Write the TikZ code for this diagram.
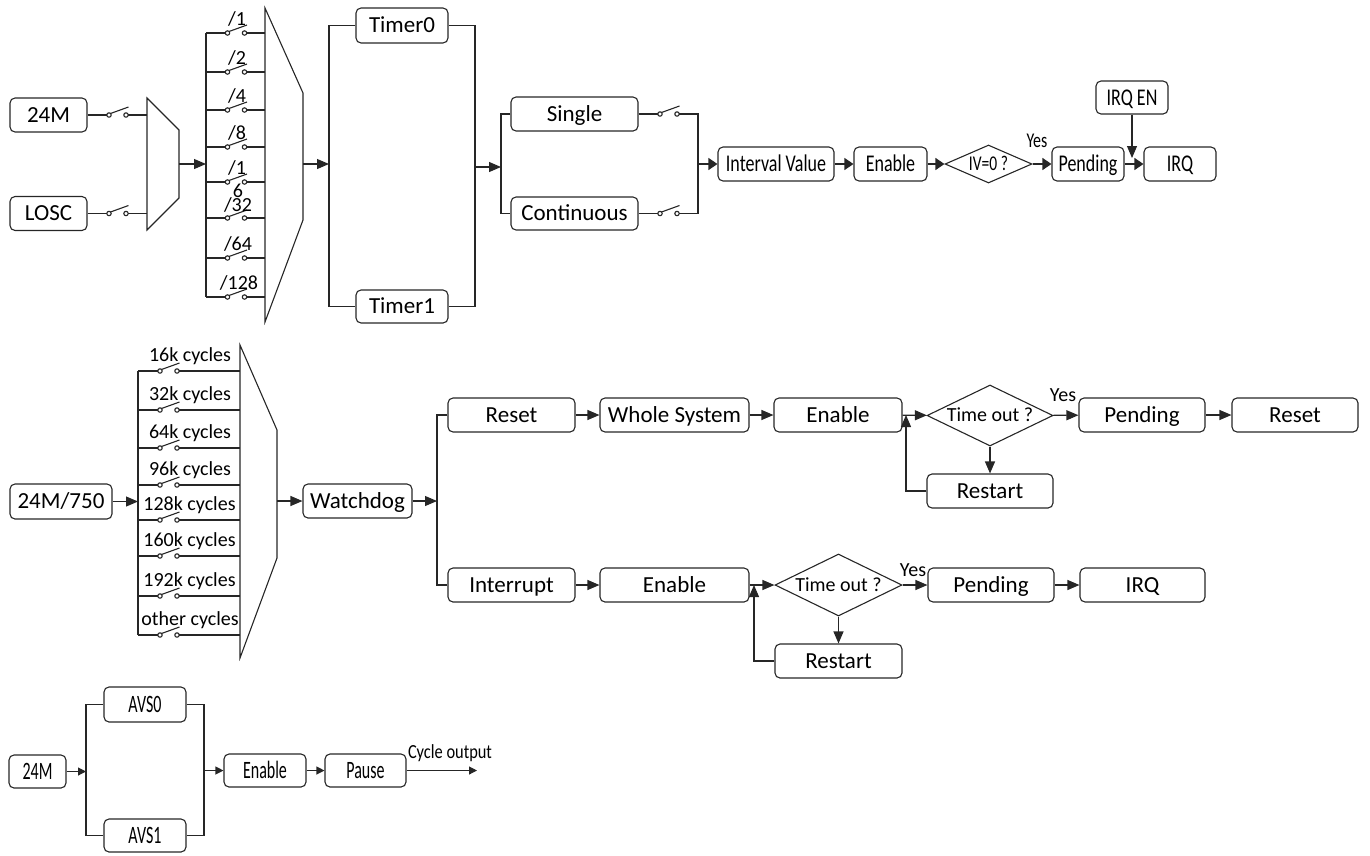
\documentclass[tikz,border=0pt]{standalone}
\usepackage{fontspec}
\setmainfont{Carlito}
\usepackage{graphicx}
\usetikzlibrary{arrows.meta,shapes.geometric}
\newcommand\fsz[1]{\fontsize{#1pt}{#1pt}\selectfont}
\newcommand\ntxt[2][1]{\raisebox{-0.32em}[0pt][0pt]{\makebox[0pt]{\scalebox{#1}[1]{#2}}}}
\tikzset{
  ln/.style={draw=black!85, line width=1.1pt},
  box/.style={draw=black!85, line width=1.1pt, rounded corners=5pt, inner sep=0pt, minimum height=34pt},
  dia/.style={draw=black!85, line width=1.1pt, shape=diamond, inner sep=0pt},
  arr/.style={ln, -{Triangle[length=12pt,width=10pt]}},
  tarr/.style={ln, -{Triangle[length=9pt,width=12pt]}},
  sarr/.style={ln, -{Triangle[length=8pt,width=8pt]}},
  fA/.style={font=\fsz{23}},
  fB/.style={font=\fsz{24}},
  fC/.style={font=\fsz{25}},
  fL/.style={font=\fsz{20}},
  swi/.pic={
    \draw[ln] (-8.5,0) circle[radius=2.2pt];
    \draw[ln] (8.5,0) circle[radius=2.2pt];
    \draw[ln] (-7,-1.5) -- (11,-8);
    \coordinate (-l) at (-10.7,0);
    \coordinate (-r) at (10.7,0);
  }
}
\begin{document}
\begin{tikzpicture}[x=1pt,y=-1pt]
\useasboundingbox (0,0) rectangle (1370,855);

% ---------------- Timer section ----------------
\node[box,fA,minimum width=77pt] (m24) at (48.5,115) {\ntxt{24M}};
\node[box,fA,minimum width=77pt] (losc) at (48.5,213.5) {\ntxt{LOSC}};
\pic (sa) at (117.5,115) {swi};
\pic (sb) at (117.5,213.5) {swi};
\draw[ln] (147,98) -- (179,130) -- (179,198) -- (147,230) -- cycle;
\coordinate (muxa) at (147,115);
\coordinate (muxb) at (147,213.5);
\coordinate (muxo) at (179,164);
\coordinate (diva) at (206,164);
\draw[ln] (m24) -- (sa-l);
\draw[ln] (sa-r) -- (muxa);
\draw[ln] (losc) -- (sb-l);
\draw[ln] (sb-r) -- (muxb);
\draw[arr] (muxo) -- (diva);

% divider bus
\draw[ln] (206,33) -- (206,297);
\foreach \y in {33,72,110,147,182,218,258,297} {
  \pic at (236,\y) {swi};
  \draw[ln] (206,\y) -- (225.3,\y);
  \draw[ln] (246.7,\y) -- (265,\y);
}
\node[fL] (dl1) at (237,19.5) {\ntxt{/1}};
\node[fL] (dl2) at (237,58.5) {\ntxt{/2}};
\node[fL] (dl3) at (237,96.5) {\ntxt{/4}};
\node[fL] (dl4) at (237,133.5) {\ntxt{/8}};
\node[fL] (dl5) at (237,168.5) {\ntxt{/1}};
\node[fL] (dl5b) at (238,191) {\ntxt{6}};
\node[fL] (dl6) at (238,205) {\ntxt{/32}};
\node[fL] (dl7) at (238,244.5) {\ntxt{/64}};
\node[fL] (dl8) at (239,283.5) {\ntxt{/128}};

% mux 2
\draw[ln] (265,8) -- (303,93) -- (303,220) -- (265,322) -- cycle;
\coordinate (mux2o) at (303,164);
\coordinate (tbusl) at (329,164);
\draw[arr] (mux2o) -- (tbusl);

\node[box,fA,minimum width=92pt,minimum height=35pt] (tm0) at (402,25.5) {\ntxt{Timer0}};
\node[box,fA,minimum width=92pt,minimum height=33pt] (tm1) at (402,306.5) {\ntxt{Timer1}};
\draw[ln] (tm0.west) -- (329,25.5) -- (329,306.5) -- (tm1.west);
\draw[ln] (tm0.east) -- (475,25.5) -- (475,306.5) -- (tm1.east);
\coordinate (tbusr) at (475,167);
\coordinate (mbusl) at (501,167);
\draw[arr] (tbusr) -- (mbusl);

\node[box,fA,minimum width=127pt] (sgl) at (574.5,114) {\ntxt{Single}};
\node[box,fA,minimum width=127pt,minimum height=33pt] (cont) at (574.5,213.5) {\ntxt{Continuous}};
\draw[ln] (sgl.west) -- (501,114) -- (501,213.5) -- (cont.west);
\pic (sc) at (668.5,114) {swi};
\pic (sd) at (668.5,213.5) {swi};
\draw[ln] (sgl.east) -- (sc-l);
\draw[ln] (cont.east) -- (sd-l);
\draw[ln] (sc-r) -- (698,114) -- (698,213.5) -- (sd-r);
\coordinate (mbusr) at (698,164);

\node[box,fB,minimum width=116pt] (iv) at (776,164) {\ntxt[0.75]{Interval Value}};
\node[box,fB,minimum width=73pt] (en1) at (890.5,164) {\ntxt[0.75]{Enable}};
\node[dia,font=\fsz{21},minimum width=87pt,minimum height=38pt] (d1) at (988.5,164) {\ntxt[0.74]{IV=0 ?}};
\node[box,fB,minimum width=72pt] (pd1) at (1088,164) {\ntxt[0.75]{Pending}};
\node[box,fB,minimum width=72pt] (irq1) at (1180,164) {\ntxt[0.75]{IRQ}};
\node[box,fB,minimum width=72pt,minimum height=33pt] (irqen) at (1132,97.5) {\ntxt[0.75]{IRQ EN}};
\node[font=\fsz{21}] (yes1) at (1037,141) {\ntxt[0.76]{Yes}};
\coordinate (irqin) at (1132,158);
\draw[tarr] (mbusr) -- (iv);
\draw[tarr] (iv) -- (en1);
\draw[tarr] (en1) -- (d1);
\draw[tarr] (d1) -- (pd1);
\draw[tarr] (pd1) -- (irq1);
\draw[arr] (irqen) -- (irqin);

% ---------------- Watchdog section ----------------
\node[box,fA,minimum width=102pt,minimum height=35pt] (m750) at (61,501.5) {\ntxt{24M/750}};
\coordinate (wbus) at (138,501.5);
\draw[arr] (m750) -- (wbus);
\draw[ln] (138,371) -- (138,635);
\foreach \y in {371,410,448,485,520,556,596,635} {
  \pic at (168.5,\y) {swi};
  \draw[ln] (138,\y) -- (157.8,\y);
  \draw[ln] (179.2,\y) -- (240,\y);
}
\node[fL] (c1) at (190,355) {\ntxt{16k cycles}};
\node[fL] (c2) at (190,394) {\ntxt{32k cycles}};
\node[fL] (c3) at (190,432) {\ntxt{64k cycles}};
\node[fL] (c4) at (190,469) {\ntxt{96k cycles}};
\node[fL] (c5) at (189.5,504) {\ntxt{128k cycles}};
\node[fL] (c6) at (189.5,540) {\ntxt{160k cycles}};
\node[fL] (c7) at (189.5,580) {\ntxt{192k cycles}};
\node[fL] (c8) at (190,619) {\ntxt{other cycles}};
\draw[ln] (240,345) -- (277,430) -- (277,558) -- (240,658) -- cycle;
\coordinate (mux3o) at (277,501);

\node[box,fA,minimum width=109pt] (wd) at (357.5,501) {\ntxt{Watchdog}};
\draw[arr] (mux3o) -- (wd);
\coordinate (wdbus) at (437,501);
\draw[arr] (wd) -- (wdbus);

\node[box,fA,minimum width=127pt] (rst) at (511.5,415) {\ntxt{Reset}};
\node[box,fA,minimum width=149pt] (ws) at (674.5,415) {\ntxt{Whole System}};
\node[box,fA,minimum width=128pt] (enm1) at (838,415) {\ntxt{Enable}};
\node[dia,font=\fsz{20},minimum width=126pt,minimum height=61pt] (dt1) at (990,415.5) {\ntxt{Time out ?}};
\node[box,fA,minimum width=126pt] (rs1) at (990,491) {\ntxt{Restart}};
\node[box,fA,minimum width=126pt] (pm1) at (1142,415) {\ntxt{Pending}};
\node[box,fA,minimum width=126pt] (rst2) at (1295,415) {\ntxt{Reset}};
\node[font=\fsz{20}] (yes2) at (1063,395) {\ntxt{Yes}};

\node[box,fA,minimum width=127pt] (intr) at (511.5,585) {\ntxt{Interrupt}};
\node[box,fA,minimum width=149pt] (enm2) at (674.5,585) {\ntxt{Enable}};
\node[dia,font=\fsz{20},minimum width=127pt,minimum height=62pt] (dt2) at (838.5,585) {\ntxt{Time out ?}};
\node[box,fA,minimum width=127pt] (rs2) at (838.5,661) {\ntxt{Restart}};
\node[box,fA,minimum width=126pt] (pm2) at (991,585) {\ntxt{Pending}};
\node[box,fA,minimum width=125pt] (irq2) at (1142.5,585) {\ntxt{IRQ}};
\node[font=\fsz{20}] (yes3) at (913,570) {\ntxt{Yes}};

\draw[ln] (rst.west) -- (437,415) -- (437,585) -- (intr.west);
\draw[arr] (rst) -- (ws);
\draw[arr] (ws) -- (enm1);
\draw[arr] (enm1) -- (dt1);
\draw[arr] (dt1) -- (pm1);
\draw[arr] (pm1) -- (rst2);
\draw[arr] (dt1.south) -- (rs1.north);
\coordinate (lp1) at (906,415);
\draw[arr] (rs1.west) -| (lp1);

\draw[arr] (intr) -- (enm2);
\draw[arr] (enm2) -- (dt2);
\draw[arr] (dt2) -- (pm2);
\draw[arr] (pm2) -- (irq2);
\draw[arr] (dt2.south) -- (rs2.north);
\coordinate (lp2) at (754,585);
\draw[arr] (rs2.west) -| (lp2);

% ---------------- AVS section ----------------
\node[box,fC,minimum width=57pt,minimum height=33pt] (b24) at (37.5,771.5) {\ntxt[0.64]{24M}};
\node[box,fC,minimum width=82pt,minimum height=35pt] (avs0) at (145,704.5) {\ntxt[0.64]{AVS0}};
\node[box,fC,minimum width=82pt,minimum height=33pt] (avs1) at (145,835.5) {\ntxt[0.64]{AVS1}};
\node[box,fC,minimum width=82pt,minimum height=33pt] (enb) at (265,770.5) {\ntxt[0.64]{Enable}};
\node[box,fC,minimum width=81pt,minimum height=33pt] (pause) at (365.5,770.5) {\ntxt[0.64]{Pause}};
\coordinate (abusl) at (86,771.5);
\coordinate (abusr) at (204,770.5);
\coordinate (cyc) at (477,770.5);
\draw[sarr] (b24) -- (abusl);
\draw[ln] (avs0.west) -- (86,704.5) -- (86,835.5) -- (avs1.west);
\draw[ln] (avs0.east) -- (204,704.5) -- (204,835.5) -- (avs1.east);
\draw[sarr] (abusr) -- (enb);
\draw[sarr] (enb) -- (pause);
\draw[sarr] (pause) -- (cyc);
\node[font=\fsz{20}] (cyclbl) at (450,752) {\ntxt[0.82]{Cycle output}};
\end{tikzpicture}
\end{document}
